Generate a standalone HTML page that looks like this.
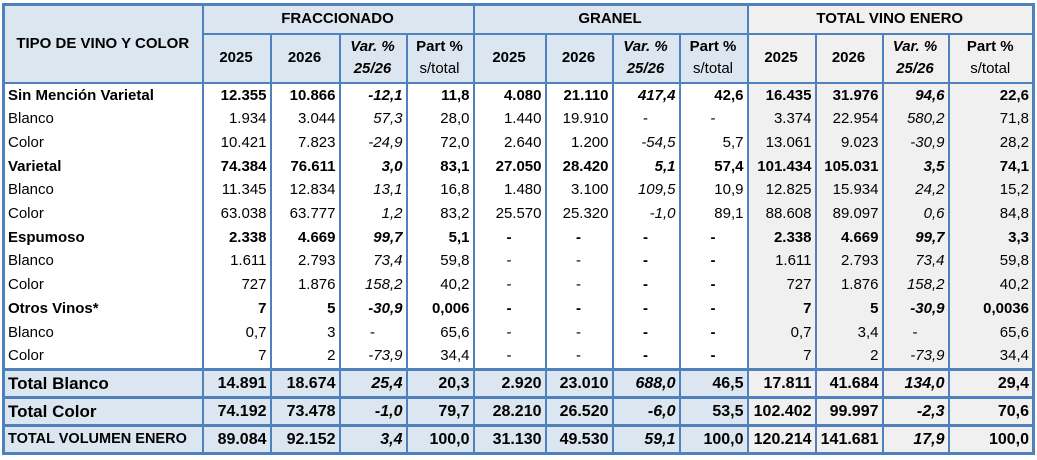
<!DOCTYPE html>
<html><head><meta charset="utf-8"><style>
body{margin:0;background:#fff;width:1037px;height:460px;overflow:hidden}
table{position:absolute;left:2px;top:3px;border-collapse:collapse;table-layout:fixed;font-family:"Liberation Sans",Arial,sans-serif;font-size:15px;color:#000;border:3px solid #4f81bd}
td{padding:0 3px 0 2px;white-space:nowrap;overflow:hidden;border-left:2px solid #4f81bd;border-right:2px solid #4f81bd;text-align:right}
td.l{text-align:left;padding-left:3px}
td.c{text-align:center}
.h td{background:#dce6f1;font-weight:bold;text-align:center;border:2px solid #4f81bd;line-height:18px}
.h td.g,.h2 td.g{background:#f0f0f0}
.h2 td{background:#dce6f1;font-weight:bold;text-align:center;border:2px solid #4f81bd;line-height:22px}
.d td{line-height:23.7px;height:23.7px}
.d td.g{background:#f0f0f0}
.b td{font-weight:bold}
i{font-style:italic}
.t td{background:#dce6f1;font-weight:bold;border-top:3px solid #4f81bd;font-size:16px;line-height:25px;height:25px}
.t td.g{background:#f0f0f0}
.t td.l{font-size:17px}
.tv td.l{font-size:14.5px}
</style></head><body>
<table>
<colgroup><col style="width:199px"><col style="width:68px"><col style="width:69px"><col style="width:67px"><col style="width:67px"><col style="width:72px"><col style="width:67px"><col style="width:67px"><col style="width:68px"><col style="width:68px"><col style="width:67px"><col style="width:66px"><col style="width:85px"></colgroup>
<tr class="h" style="height:29px"><td rowspan="2" style="font-size:15px">TIPO DE VINO Y COLOR</td><td colspan="4">FRACCIONADO</td><td colspan="4">GRANEL</td><td colspan="4" class="g">TOTAL VINO ENERO</td></tr>
<tr class="h2" style="height:49px"><td>2025</td><td>2026</td><td><i>Var. %<br>25/26</i></td><td style="font-weight:normal"><b>Part %</b><br>s/total</td><td>2025</td><td>2026</td><td><i>Var. %<br>25/26</i></td><td style="font-weight:normal"><b>Part %</b><br>s/total</td><td class="g">2025</td><td class="g">2026</td><td class="g"><i>Var. %<br>25/26</i></td><td class="g" style="font-weight:normal"><b>Part %</b><br>s/total</td></tr>
<tr class="d b"><td class="l">Sin Mención Varietal</td><td>12.355</td><td>10.866</td><td><i>-12,1</i></td><td>11,8</td><td>4.080</td><td>21.110</td><td><i>417,4</i></td><td>42,6</td><td class="g">16.435</td><td class="g">31.976</td><td class="g"><i>94,6</i></td><td class="g">22,6</td></tr>
<tr class="d"><td class="l">Blanco</td><td>1.934</td><td>3.044</td><td><i>57,3</i></td><td>28,0</td><td>1.440</td><td>19.910</td><td class="c">-</td><td class="c">-</td><td class="g">3.374</td><td class="g">22.954</td><td class="g"><i>580,2</i></td><td class="g">71,8</td></tr>
<tr class="d"><td class="l">Color</td><td>10.421</td><td>7.823</td><td><i>-24,9</i></td><td>72,0</td><td>2.640</td><td>1.200</td><td><i>-54,5</i></td><td>5,7</td><td class="g">13.061</td><td class="g">9.023</td><td class="g"><i>-30,9</i></td><td class="g">28,2</td></tr>
<tr class="d b"><td class="l">Varietal</td><td>74.384</td><td>76.611</td><td><i>3,0</i></td><td>83,1</td><td>27.050</td><td>28.420</td><td><i>5,1</i></td><td>57,4</td><td class="g">101.434</td><td class="g">105.031</td><td class="g"><i>3,5</i></td><td class="g">74,1</td></tr>
<tr class="d"><td class="l">Blanco</td><td>11.345</td><td>12.834</td><td><i>13,1</i></td><td>16,8</td><td>1.480</td><td>3.100</td><td><i>109,5</i></td><td>10,9</td><td class="g">12.825</td><td class="g">15.934</td><td class="g"><i>24,2</i></td><td class="g">15,2</td></tr>
<tr class="d"><td class="l">Color</td><td>63.038</td><td>63.777</td><td><i>1,2</i></td><td>83,2</td><td>25.570</td><td>25.320</td><td><i>-1,0</i></td><td>89,1</td><td class="g">88.608</td><td class="g">89.097</td><td class="g"><i>0,6</i></td><td class="g">84,8</td></tr>
<tr class="d b"><td class="l">Espumoso</td><td>2.338</td><td>4.669</td><td><i>99,7</i></td><td>5,1</td><td class="c">-</td><td class="c">-</td><td class="c">-</td><td class="c">-</td><td class="g">2.338</td><td class="g">4.669</td><td class="g"><i>99,7</i></td><td class="g">3,3</td></tr>
<tr class="d"><td class="l">Blanco</td><td>1.611</td><td>2.793</td><td><i>73,4</i></td><td>59,8</td><td class="c">-</td><td class="c">-</td><td class="c"><b>-</b></td><td class="c"><b>-</b></td><td class="g">1.611</td><td class="g">2.793</td><td class="g"><i>73,4</i></td><td class="g">59,8</td></tr>
<tr class="d"><td class="l">Color</td><td>727</td><td>1.876</td><td><i>158,2</i></td><td>40,2</td><td class="c">-</td><td class="c">-</td><td class="c"><b>-</b></td><td class="c"><b>-</b></td><td class="g">727</td><td class="g">1.876</td><td class="g"><i>158,2</i></td><td class="g">40,2</td></tr>
<tr class="d b"><td class="l">Otros Vinos*</td><td>7</td><td>5</td><td><i>-30,9</i></td><td>0,006</td><td class="c">-</td><td class="c">-</td><td class="c">-</td><td class="c">-</td><td class="g">7</td><td class="g">5</td><td class="g"><i>-30,9</i></td><td class="g">0,0036</td></tr>
<tr class="d"><td class="l">Blanco</td><td>0,7</td><td>3</td><td class="c">-</td><td>65,6</td><td class="c">-</td><td class="c">-</td><td class="c"><b>-</b></td><td class="c"><b>-</b></td><td class="g">0,7</td><td class="g">3,4</td><td class="g c">-</td><td class="g">65,6</td></tr>
<tr class="d"><td class="l">Color</td><td>7</td><td>2</td><td><i>-73,9</i></td><td>34,4</td><td class="c">-</td><td class="c">-</td><td class="c"><b>-</b></td><td class="c"><b>-</b></td><td class="g">7</td><td class="g">2</td><td class="g"><i>-73,9</i></td><td class="g">34,4</td></tr>
<tr class="t"><td class="l">Total Blanco</td><td>14.891</td><td>18.674</td><td><i>25,4</i></td><td>20,3</td><td>2.920</td><td>23.010</td><td><i>688,0</i></td><td>46,5</td><td class="g">17.811</td><td class="g">41.684</td><td class="g"><i>134,0</i></td><td class="g">29,4</td></tr>
<tr class="t"><td class="l">Total Color</td><td>74.192</td><td>73.478</td><td><i>-1,0</i></td><td>79,7</td><td>28.210</td><td>26.520</td><td><i>-6,0</i></td><td>53,5</td><td class="g">102.402</td><td class="g">99.997</td><td class="g"><i>-2,3</i></td><td class="g">70,6</td></tr>
<tr class="t tv"><td class="l">TOTAL VOLUMEN ENERO</td><td>89.084</td><td>92.152</td><td><i>3,4</i></td><td>100,0</td><td>31.130</td><td>49.530</td><td><i>59,1</i></td><td>100,0</td><td class="g">120.214</td><td class="g">141.681</td><td class="g"><i>17,9</i></td><td class="g">100,0</td></tr>
</table>
</body></html>
